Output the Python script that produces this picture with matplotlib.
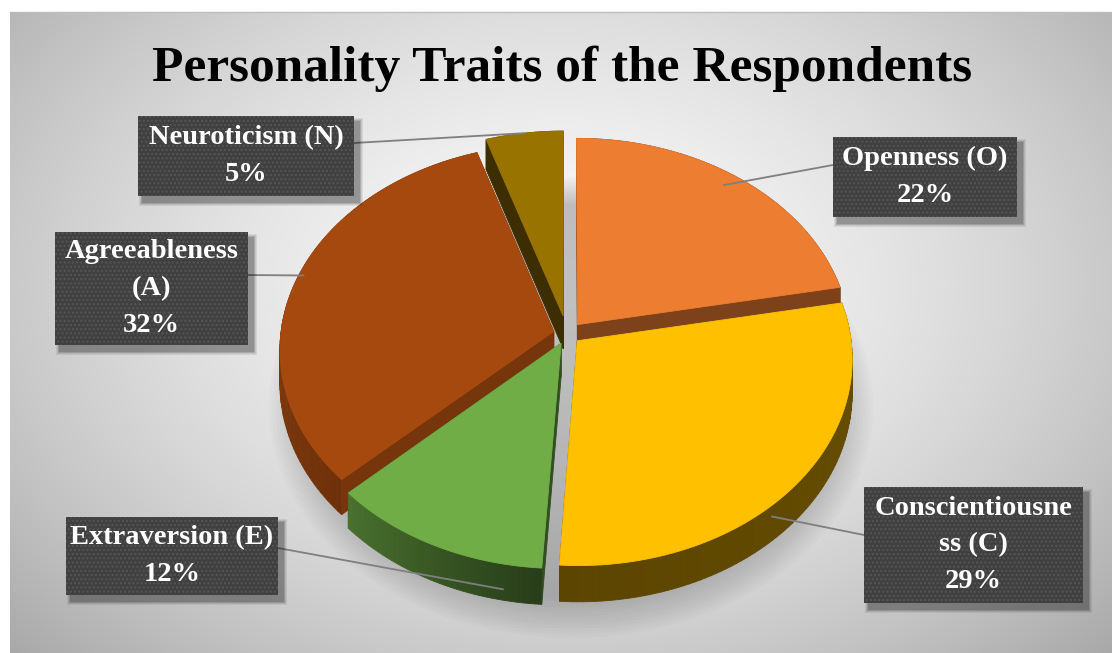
import numpy as np
import matplotlib
matplotlib.use('Agg')
import matplotlib.pyplot as plt
from matplotlib.patches import Polygon, Rectangle
from matplotlib.colors import to_rgb

# ---------------- data ----------------
title = 'Personality Traits of the Respondents'
traits = ['Openness (O)', 'Conscientiousness (C)', 'Extraversion (E)',
          'Agreeableness (A)', 'Neuroticism (N)']
shares = [22, 29, 12, 32, 5]
label_lines = [['Openness (O)'], ['Conscientiousne', 'ss (C)'], ['Extraversion (E)'],
               ['Agreeableness', '(A)'], ['Neuroticism (N)']]

# ---------------- style ----------------
colors = ['#ED7D31', '#FFC000', '#70AD47', '#A5490F', '#997300']
explode = [0.06, 0.05, 0.05, 0.05, 0.09]
radial_shade = [0.53, 0.40, 0.45, 0.72, 0.40]
# label boxes (x0, y0, x1, y1) in pixels
boxes = [(833, 137, 1017, 217), (864, 487, 1083, 603), (66, 517, 278, 595),
         (55, 232, 248, 345), (138, 116, 354, 196)]
# leader-line anchor on slice: (position in slice 0..1, radius, depth z)
anchors = [(0.48, 0.93, 0.0), (0.57, 1.0, 0.3), (0.17, 1.0, 0.7),
           (0.52, 0.98, 0.0), (0.5, 1.0, 0.0)]
box_side = ['left', 'left', 'right', 'right', 'right']
box_line_y = [165, 535, 548, 275, 143]

W, H = 1112, 653
fig = plt.figure(figsize=(W / 100, H / 100), dpi=100)
fig.patch.set_facecolor('white')
ax = fig.add_axes([0, 0, 1, 1])
ax.set_xlim(0, W)
ax.set_ylim(H, 0)
ax.axis('off')

# ---------------- background gradient ----------------
gx = np.linspace(-1, 1, 500)
gy = np.linspace(-1, 1, 300)
GX, GY = np.meshgrid(gx, gy)
d = np.sqrt((GX / 1.05) ** 2 + ((GY + 0.15) / 1.25) ** 2)
val = 0.975 - 0.20 * np.clip(d, 0, 1.4) ** 1.6
img = np.dstack([val, val, val])
ax.imshow(img, extent=(10, W, H, 12), origin='upper', zorder=0, aspect='auto',
          interpolation='bilinear')
ax.plot([10, W], [12, 12], color='#bdbdbd', lw=1, zorder=0.5)

# ---------------- pie geometry ----------------
cx, cy = 567, 334
rx, ry, depth, persp = 273, 204, 33, 0.087


def proj(u, v, z):
    f = 1.0 / (1.0 + persp * v)
    return cx + u * rx * f, cy - v * ry * f + z * depth * f


fr = np.array(shares, dtype=float) / np.sum(shares)
bounds = np.concatenate([[0], np.cumsum(fr)]) * 2 * np.pi

# shadow under the pie
tt = np.linspace(0, 2 * np.pi, 200)
for k in range(14):
    s = 1.10 - 0.012 * k
    pts = [proj(s * np.sin(t), s * np.cos(t) - 0.02, 1.0) for t in tt]
    pts = [(x + 4, y + 14) for x, y in pts]
    ax.add_patch(Polygon(pts, closed=True, facecolor='black', edgecolor='none',
                         alpha=0.014, zorder=1))


def shade(c, f):
    r, g, b = to_rgb(c)
    return (r * f, g * f, b * f)


def outer_factor(theta_deg):
    th = theta_deg % 360
    return np.interp(th, [0, 90, 185, 230, 270, 360], [0.45, 0.40, 0.36, 0.68, 0.78, 0.6])


mids = (bounds[:-1] + bounds[1:]) / 2
order = np.argsort(-np.cos(mids))  # back slices first
z = 2
for i in order:
    a0, a1 = bounds[i], bounds[i + 1]
    mid = mids[i]
    ou, ov = explode[i] * np.sin(mid), explode[i] * np.cos(mid)
    ts = np.linspace(a0, a1, max(8, int((a1 - a0) / 0.02)))
    walls = []
    for t0, t1 in zip(ts[:-1], ts[1:]):
        tm = (t0 + t1) / 2
        p = [proj(ou + np.sin(t0), ov + np.cos(t0), 0), proj(ou + np.sin(t1), ov + np.cos(t1), 0),
             proj(ou + np.sin(t1), ov + np.cos(t1), 1), proj(ou + np.sin(t0), ov + np.cos(t0), 1)]
        col = shade(colors[i], outer_factor(np.degrees(tm)))
        walls.append((np.cos(tm), p, col))
    for a, nv in ((a0, np.sin(a0)), (a1, -np.sin(a1))):
        p = [proj(ou, ov, 0), proj(ou + np.sin(a), ov + np.cos(a), 0),
             proj(ou + np.sin(a), ov + np.cos(a), 1), proj(ou, ov, 1)]
        walls.append((nv, p, shade(colors[i], radial_shade[i])))
    walls.sort(key=lambda w: -w[0])
    for nv, p, col in walls:
        ax.add_patch(Polygon(p, closed=True, facecolor=col, edgecolor=col, lw=0.6, zorder=z))
    top = [proj(ou, ov, 0)] + [proj(ou + np.sin(t), ov + np.cos(t), 0) for t in ts]
    ax.add_patch(Polygon(top, closed=True, facecolor=colors[i], edgecolor=colors[i],
                         lw=0.6, zorder=z + 0.5))
    z += 1

# ---------------- labels ----------------
zl = 20
for i in range(len(traits)):
    x0, y0, x1, y1 = boxes[i]
    a0, a1 = bounds[i], bounds[i + 1]
    mid = mids[i]
    ou, ov = explode[i] * np.sin(mid), explode[i] * np.cos(mid)
    pos, rr, zz = anchors[i]
    ta = a0 + pos * (a1 - a0)
    ex, ey = proj(ou + rr * np.sin(ta), ov + rr * np.cos(ta), zz)
    bx = x0 if box_side[i] == 'left' else x1
    ax.plot([bx, ex], [box_line_y[i], ey], color='#7f7f7f', lw=1.3, zorder=zl,
            solid_capstyle='butt')
    for k in range(6):
        g = 6 - k
        ax.add_patch(Rectangle((x0 + 5 - g * 0.6, y0 + 6 - g * 0.6), (x1 - x0) + g * 1.2,
                               (y1 - y0) + g * 1.2, facecolor='black', edgecolor='none',
                               alpha=0.07, zorder=zl + 1))
    ax.add_patch(Rectangle((x0, y0), x1 - x0, y1 - y0, facecolor='#404040',
                           edgecolor='none', zorder=zl + 2))
    ax.add_patch(Rectangle((x0, y0), x1 - x0, y1 - y0, facecolor='none', hatch='....',
                           edgecolor='#555555', lw=0, zorder=zl + 3))
    lines = label_lines[i] + [f'{shares[i]}%']
    n = len(lines)
    ymid = (y0 + y1) / 2
    for j, s in enumerate(lines):
        yy = ymid + (j - (n - 1) / 2) * 36.5
        ax.text((x0 + x1) / 2, yy, s, ha='center', va='center', color='white',
                fontsize=20.5, fontweight='bold', family='Liberation Serif', zorder=zl + 4)

ax.text(562, 69, title, ha='center', va='center', color='black', fontsize=37,
        fontweight='bold', family='Liberation Serif', zorder=30)

fig.savefig('out.png', dpi=100, facecolor='white')
